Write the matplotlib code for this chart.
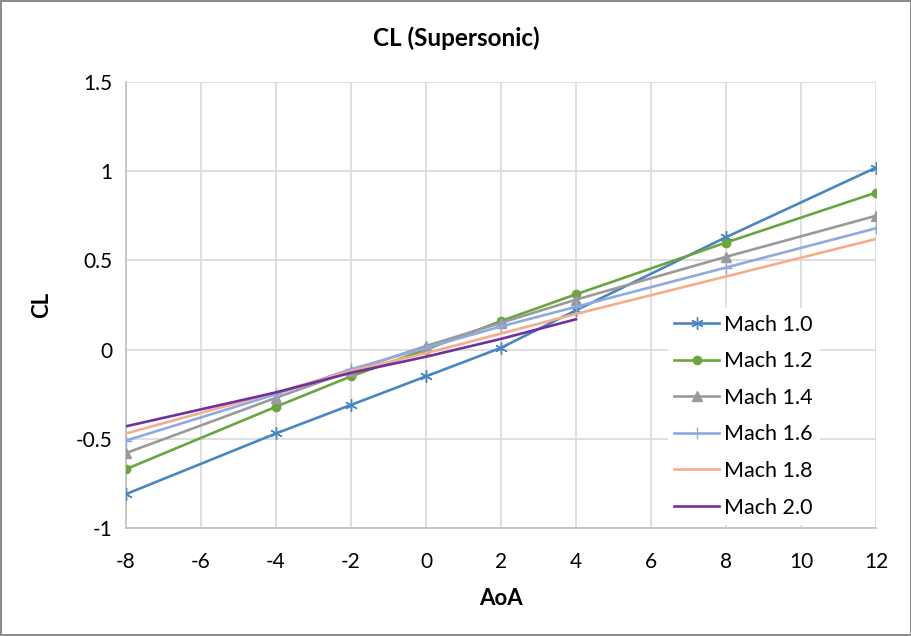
import matplotlib
matplotlib.use("Agg")
import matplotlib.pyplot as plt

plt.rcParams['font.family'] = ['Lato', 'DejaVu Sans']

aoa = [-8, -4, -2, 0, 2, 4, 8, 12]
aoa_m20 = [-8, -4, -2, 0, 2, 4]
cl_m10 = [-0.81, -0.47, -0.31, -0.15, 0.01, 0.22, 0.63, 1.02]
cl_m12 = [-0.67, -0.32, -0.15, 0.00, 0.16, 0.31, 0.60, 0.88]
cl_m14 = [-0.58, -0.27, -0.12, 0.02, 0.15, 0.28, 0.52, 0.75]
cl_m16 = [-0.51, -0.25, -0.11, 0.01, 0.13, 0.24, 0.46, 0.68]
cl_m18 = [-0.47, -0.24, -0.12, -0.02, 0.09, 0.20, 0.41, 0.62]
cl_m20 = [-0.43, -0.24, -0.13, -0.04, 0.06, 0.17]
labels = ["Mach 1.0", "Mach 1.2", "Mach 1.4", "Mach 1.6", "Mach 1.8", "Mach 2.0"]
xticks = [-8, -6, -4, -2, 0, 2, 4, 6, 8, 10, 12]
yticks = [-1, -0.5, 0, 0.5, 1, 1.5]
yticklabels = ["-1", "-0.5", "0", "0.5", "1", "1.5"]

fig = plt.figure(figsize=(9.12, 6.36), dpi=100)
fig.patch.set_edgecolor('#8c8c8c')
fig.patch.set_linewidth(1.5)
ax = fig.add_axes([126/912, 108/636, 750/912, 446/636])

lw = 1.9
ax.plot(aoa, cl_m10, color='#4a86c0', lw=lw, marker=(6, 2, 0), ms=9, mew=1.0, label=labels[0], zorder=3)
ax.plot(aoa, cl_m12, color='#6aa63f', lw=lw, marker='o', ms=6, label=labels[1], zorder=3)
ax.plot(aoa, cl_m14, color='#9a9a9a', lw=lw, marker='^', ms=7, label=labels[2], zorder=3)
ax.plot(aoa, cl_m16, color='#8eaadf', lw=lw, marker='+', ms=9, mew=1.0, label=labels[3], zorder=3)
ax.plot(aoa, cl_m18, color='#f4ae8a', lw=lw, label=labels[4], zorder=3)
ax.plot(aoa_m20, cl_m20, color='#7030a0', lw=lw, label=labels[5], zorder=3)

ax.set_xlim(-8, 12)
ax.set_ylim(-1, 1.5)
ax.set_xticks(xticks)
ax.set_xticklabels([str(t) for t in xticks])
ax.set_yticks(yticks)
ax.set_yticklabels(yticklabels)
ax.grid(True, color='#d9d9d9', lw=1.2, zorder=0)
for s in ['top', 'right']:
    ax.spines[s].set_visible(False)
for s in ['left', 'bottom']:
    ax.spines[s].set_color('#bfbfbf')
    ax.spines[s].set_linewidth(1.2)
ax.tick_params(length=0, labelsize=15, labelcolor='black')
ax.tick_params(axis='x', pad=17)
ax.tick_params(axis='y', pad=10)

ax.set_xlabel('AoA', fontsize=16, fontweight='bold', labelpad=12)
ax.set_ylabel('CL', fontsize=16, fontweight='bold', labelpad=17)
fig.text(456/912, 1 - 38/636, 'CL (Supersonic)', ha='center', va='center',
         fontsize=17.5, fontweight='bold')

leg = ax.legend(loc='upper left', bbox_to_anchor=(0.708, 0.517), frameon=True,
                fontsize=15.5, handlelength=2.1, labelspacing=0.77,
                borderpad=0.3, handletextpad=0.2, fancybox=False)
leg.get_frame().set_edgecolor('white')
leg.get_frame().set_facecolor('white')
leg.get_frame().set_alpha(1.0)
leg.set_zorder(5)

fig.savefig('out.png', dpi=100, edgecolor=fig.get_edgecolor())
